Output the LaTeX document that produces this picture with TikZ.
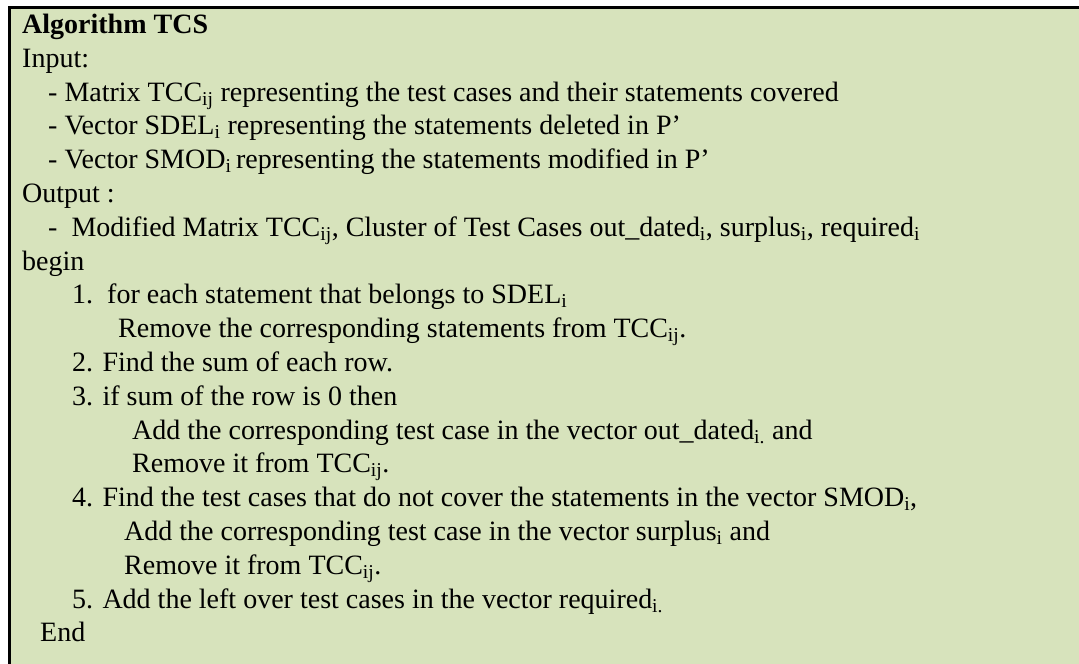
\documentclass[tikz,border=0pt]{standalone}
\usepackage{fontspec}
\setmainfont{Liberation Serif}
\definecolor{boxgreen}{HTML}{D7E3BC}
\newcommand{\sbs}[1]{\textsubscript{#1}}
\begin{document}
\begin{tikzpicture}[x=1pt,y=-1pt,
  ln/.style={anchor=base west,inner sep=0pt,font=\fontsize{28}{34}\selectfont}]
\useasboundingbox (0,0) rectangle (1079,664);
\clip (0,0) rectangle (1079,664);
\draw[line width=2.6pt,fill=boxgreen] (9.5,7.5) rectangle (1100,700);
\node[ln,font=\fontsize{28}{34}\selectfont\bfseries] (t0) at (22,33) {Algorithm TCS};
\node[ln] (t1) at (22,67) {Input:};
\node[ln] (t2) at (48,101) {- Matrix TCC\sbs{ij} representing the test cases and their statements covered};
\node[ln] (t3) at (48,134) {- Vector SDEL\sbs{i} representing the statements deleted in P’};
\node[ln] (t4) at (48,168) {- Vector SMOD\sbs{i}\,representing the statements modified in P’};
\node[ln] (t5) at (22,202) {Output :};
\node[ln] (t6) at (48,236) {-\ \ Modified Matrix TCC\sbs{ij}, Cluster of Test Cases out\_dated\sbs{i}, surplus\sbs{i}, required\sbs{i}};
\node[ln] (t7) at (22,270) {begin};
\node[ln] (t8) at (72,303) {1.\ \ for each statement that belongs to SDEL\sbs{i}};
\node[ln] (t9) at (118,337) {Remove the corresponding statements from TCC\sbs{ij}.};
\node[ln] (t10) at (72,371) {2. Find the sum of each row.};
\node[ln] (t11) at (72,405) {3. if sum of the row is 0 then};
\node[ln] (t12) at (132,439) {Add the corresponding test case in the vector out\_dated\sbs{i.} and};
\node[ln] (t13) at (132,472) {Remove it from TCC\sbs{ij}.};
\node[ln] (t14) at (72,506) {4. Find the test cases that do not cover the statements in the vector SMOD\sbs{i},};
\node[ln] (t15) at (124,540) {Add the corresponding test case in the vector surplus\sbs{i} and};
\node[ln] (t16) at (124,574) {Remove it from TCC\sbs{ij}.};
\node[ln] (t17) at (72,608) {5. Add the left over test cases in the vector required\sbs{i.}};
\node[ln] (t18) at (40,641) {End};
\end{tikzpicture}
\end{document}
